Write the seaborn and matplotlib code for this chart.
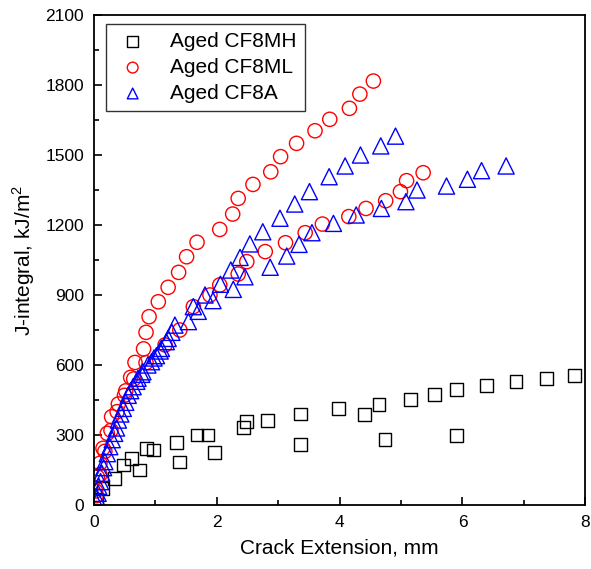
import matplotlib
matplotlib.use("Agg")
import matplotlib.pyplot as plt
import seaborn as sns
import pandas as pd
from matplotlib.ticker import MultipleLocator

sns.set_style("white")
plt.rcParams['font.family'] = ['Liberation Sans', 'DejaVu Sans']
plt.rcParams['mathtext.fontset'] = 'custom'
plt.rcParams['mathtext.rm'] = 'Liberation Sans'
plt.rcParams['text.color'] = 'black'
plt.rcParams['axes.labelcolor'] = 'black'
plt.rcParams['xtick.color'] = 'black'
plt.rcParams['ytick.color'] = 'black'

series_names = ["Aged CF8MH", "Aged CF8ML", "Aged CF8A"]

mh_x = [0.05, 0.15, 0.34, 0.48, 0.62, 0.75, 0.86, 0.97, 1.34, 1.39, 1.68, 1.86, 1.97,
        2.43, 2.49, 2.83, 3.36, 3.37, 3.98, 4.40, 4.64, 4.74, 5.16, 5.54, 5.90, 5.90,
        6.39, 6.87, 7.37, 7.82]
mh_y = [25, 70, 114, 171, 200, 150, 243, 236, 267, 184, 300, 300, 226,
        331, 357, 363, 260, 390, 414, 387, 431, 279, 453, 474, 496, 297,
        512, 528, 541, 554]

ml_x = [0.03, 0.06, 0.10, 0.15, 0.22, 0.29, 0.40, 0.52, 0.60, 0.67, 0.81, 0.85, 0.90,
        1.05, 1.21, 1.38, 1.51, 1.68, 2.05, 2.26, 2.35, 2.59, 2.88, 3.04, 3.30, 3.60,
        3.84, 4.16, 4.33, 4.55,
        0.04, 0.10, 0.18, 0.28, 0.38, 0.50, 0.65, 0.85, 1.16, 1.40, 1.62, 1.89, 2.05,
        2.35, 2.49, 2.79, 3.12, 3.44, 3.72, 4.15, 4.43, 4.75, 4.99, 5.09, 5.36]
ml_y = [60, 120, 179, 243, 307, 378, 433, 489, 547, 611, 669, 740, 807,
        871, 933, 997, 1064, 1126, 1181, 1247, 1314, 1374, 1428, 1493, 1550, 1604,
        1653, 1700, 1761, 1817,
        40, 130, 230, 320, 400, 470, 540, 610, 686, 750, 850, 900, 943,
        990, 1043, 1086, 1124, 1167, 1204, 1236, 1271, 1304, 1343, 1390, 1424]

a_x = [0.05, 0.08, 0.13, 0.18, 0.26, 0.34, 0.40, 0.48, 0.56, 0.64, 0.72, 0.80, 0.94,
       1.02, 1.10, 1.21, 1.32, 1.62, 1.81, 2.06, 2.23, 2.38, 2.54, 2.75, 3.03, 3.27,
       3.51, 3.83, 4.09, 4.34, 4.67, 4.91,
       0.04, 0.07, 0.11, 0.16, 0.22, 0.30, 0.37, 0.44, 0.52, 0.60, 0.70, 0.78, 0.88,
       0.98, 1.08, 1.18, 1.27, 1.54, 1.70, 1.94, 2.27, 2.46, 2.87, 3.14, 3.34, 3.55,
       3.90, 4.27, 4.68, 5.08, 5.26, 5.74, 6.08, 6.31, 6.71]
a_y = [30, 80, 136, 186, 250, 307, 364, 414, 470, 507, 543, 571, 614,
       640, 671, 714, 771, 850, 900, 946, 1007, 1061, 1119, 1171, 1229, 1290,
       1343, 1407, 1453, 1500, 1539, 1581,
       10, 50, 100, 160, 220, 280, 330, 390, 440, 490, 530, 560, 600,
       630, 660, 700, 740, 786, 830, 876, 924, 978, 1019, 1067, 1117, 1167,
       1207, 1243, 1271, 1300, 1350, 1367, 1396, 1433, 1453]

xs = [mh_x, ml_x, a_x]
ys = [mh_y, ml_y, a_y]
colors = ["black", "#FF0000", "#0000FF"]
markers = ["s", "o", "^"]
sizes = [85, 105, 135]

fig = plt.figure(figsize=(5.91, 5.69), dpi=100)
ax = fig.add_axes([0.1587, 0.1125, 0.8318, 0.8611])

for name, x, y, c, m, s in zip(series_names, xs, ys, colors, markers, sizes):
    df = pd.DataFrame({"x": x, "y": y})
    sns.scatterplot(data=df, x="x", y="y", ax=ax, marker=m, s=s,
                    facecolors="none", edgecolor=c, linewidth=1.0, label=name)

ax.set_xlim(0, 8)
ax.set_ylim(0, 2100)
ax.xaxis.set_major_locator(MultipleLocator(2))
ax.xaxis.set_minor_locator(MultipleLocator(1))
ax.yaxis.set_major_locator(MultipleLocator(300))
ax.yaxis.set_minor_locator(MultipleLocator(150))
ax.tick_params(which="both", direction="in", top=False, right=False,
               left=True, bottom=True, color="black", width=1.2)
ax.tick_params(which="major", length=6, labelsize=12.5, pad=7, labelcolor="black")
ax.tick_params(which="minor", length=3.5)
for sp in ax.spines.values():
    sp.set_color("black")
    sp.set_linewidth(1.3)

ax.set_xlabel("Crack Extension, mm", fontsize=15, labelpad=6, color="black")
ax.set_ylabel("J-integral, kJ/m$^2$", fontsize=15, labelpad=6, color="black")

leg = ax.legend(loc="upper left", bbox_to_anchor=(0.024, 0.982), borderaxespad=0,
                fontsize=15, frameon=True, fancybox=False, edgecolor="black",
                handletextpad=0.9, borderpad=0.4, labelspacing=0.33,
                handlelength=1.8)
leg.get_frame().set_linewidth(1.0)
for t in leg.get_texts():
    t.set_color("black")
for h in leg.legend_handles:
    h.set_sizes([60])

fig.savefig("out.png", dpi=100)
